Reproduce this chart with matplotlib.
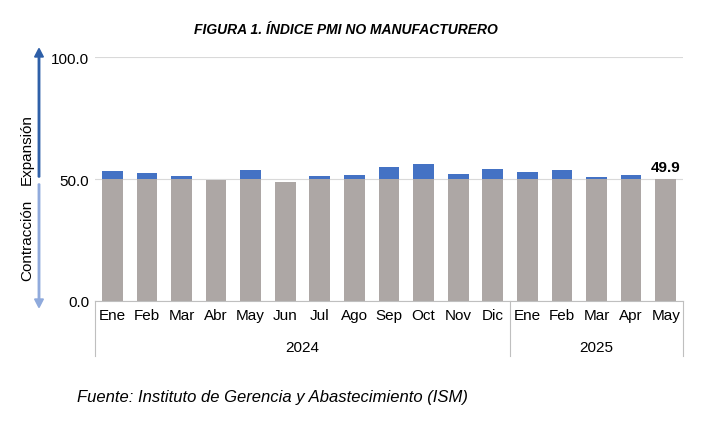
import matplotlib
matplotlib.use("Agg")
import matplotlib.pyplot as plt
import numpy as np
plt.rcParams["font.family"] = "Liberation Sans"

months = ["Ene","Feb","Mar","Abr","May","Jun","Jul","Ago","Sep","Oct","Nov","Dic","Ene","Feb","Mar","Apr","May"]
values = [53.4,52.6,51.4,49.4,53.8,48.8,51.4,51.5,54.9,56.0,52.1,54.1,52.8,53.5,50.8,51.6,49.9]
years = ["2024","2025"]
year_counts = [12,5]

fig = plt.figure(figsize=(7.28,4.27), dpi=100)
ax = fig.add_axes([95/728, 1-302/427, (683-95)/728, (302-58)/427])
x = np.arange(len(values))
v = np.array(values)
base = np.minimum(v, 50)
ax.bar(x, base, width=0.6, color="#ada7a5")
ax.bar(x, np.maximum(v-50, 0), bottom=50, width=0.6, color="#4472c4")
ax.set_xlim(-0.5, len(values)-0.5)
ax.set_ylim(0, 100)
ax.set_yticks([0,50,100])
ax.set_yticklabels(["0.0","50.0","100.0"], fontsize=11)
ax.yaxis.grid(True, color="#d9d9d9", lw=0.8)
ax.set_axisbelow(True)
for s in ["top","right","left"]:
    ax.spines[s].set_visible(False)
ax.spines["bottom"].set_color("#bfbfbf")
ax.tick_params(axis="y", length=0, pad=4)
ax.set_xticks(x)
ax.set_xticklabels(months, fontsize=11)
ax.tick_params(axis="x", length=0, pad=5)
ax.text(x[-1], v[-1]+2, f"{values[-1]}", ha="center", va="bottom", fontsize=11, fontweight="bold")

start = 0
for yr, n in zip(years, year_counts):
    ax.text(start + (n-1)/2, -0.19, yr, transform=ax.get_xaxis_transform(), ha="center", va="center", fontsize=11)
    start += n
for b in [-0.5, 11.5, len(values)-0.5]:
    ax.plot([b,b], [0,-0.225], transform=ax.get_xaxis_transform(), color="#bfbfbf", lw=0.8, clip_on=False)

fig.patches.append(matplotlib.patches.FancyArrow(39/728, 1-178/427, 0, (178-58)/427, width=0.002, head_width=0.012, head_length=0.02, color="#2e5fa8", transform=fig.transFigure))
fig.patches.append(matplotlib.patches.FancyArrow(39/728, 1-185/427, 0, -(300-185)/427, width=0.002, head_width=0.012, head_length=0.02, color="#8faadc", transform=fig.transFigure))
fig.text(27/728, 1-150/427, "Expansión", rotation=90, ha="center", va="center", fontsize=11)
fig.text(27/728, 1-240/427, "Contracción", rotation=90, ha="center", va="center", fontsize=11)

fig.text(0.475, 1-30/427, "FIGURA 1. ÍNDICE PMI NO MANUFACTURERO", ha="center", va="center", fontsize=10, fontweight="bold", style="italic")
fig.text(77/728, 1-398/427, "Fuente: Instituto de Gerencia y Abastecimiento (ISM)", ha="left", va="center", fontsize=12, style="italic")
fig.savefig("out.png", dpi=100)
